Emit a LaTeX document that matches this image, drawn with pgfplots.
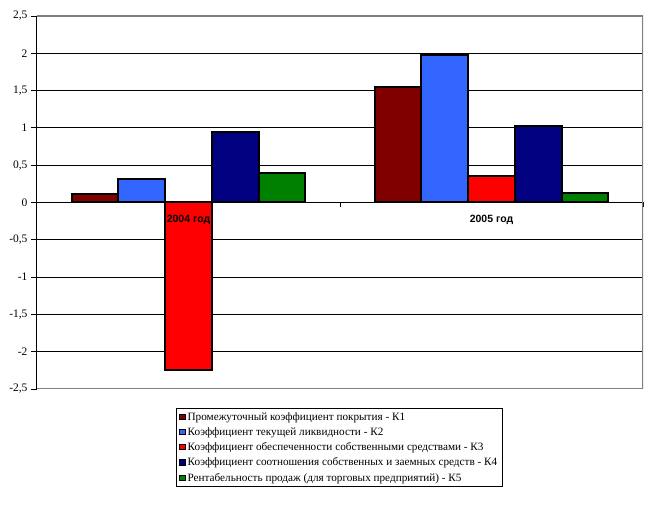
\documentclass[border=0pt]{standalone}
\usepackage{pgfplots}
\pgfplotsset{compat=1.18}
\usepackage{fontspec}
\setmainfont{Liberation Serif}
\newfontfamily\arial{Liberation Sans}
\definecolor{kone}{RGB}{128,0,0}
\definecolor{ktwo}{RGB}{51,102,255}
\definecolor{kthree}{RGB}{255,0,0}
\definecolor{kfour}{RGB}{0,0,128}
\definecolor{kfive}{RGB}{0,128,0}
\pgfplotsset{sq/.style={draw=black, line width=2pt,
  legend image code/.code={\draw[##1,draw=black,line width=0.7pt] (0pt,-2.5pt) rectangle (5.5pt,3pt);}}}
\begin{document}
\begin{tikzpicture}
\begin{axis}[
  scale only axis, width=606pt, height=373pt,
  xmin=-0.5, xmax=1.5, ymin=-2.5, ymax=2.5,
  ybar=0pt, bar width=46.7pt,
  axis x line=middle, axis y line=left, axis line style={-, line width=1pt},
  xtick={0,1}, xticklabels={},
  major x tick style={draw=none},
  minor xtick={0.5,1.5}, minor x tick style={black, line width=0.8pt},
  minor tick length=5pt,
  ytick={-2.5,-2,...,2.5},
  tick align=outside, major tick length=6pt,
  y tick style={black, line width=0.9pt},
  ymajorgrids, major grid style={black, line width=1pt},
  yticklabel style={font=\fontsize{11.5}{13}\selectfont},
  /pgf/number format/.cd, use comma, assume math mode=true,
  /pgfplots/.cd,
  legend style={at={(rel axis cs:0.2294,-0.051)}, anchor=north west,
    draw=black, line width=0.8pt, font=\fontsize{11.2}{13}\selectfont,
    row sep=1.8pt, inner xsep=3pt},
  legend cell align=left,
]
\addplot[sq, fill=kone] coordinates {(0,0.12) (1,1.55)};
\addplot[sq, fill=ktwo] coordinates {(0,0.31) (1,1.98)};
\addplot[sq, fill=kthree] coordinates {(0,-2.25) (1,0.36)};
\addplot[sq, fill=kfour] coordinates {(0,0.95) (1,1.03)};
\addplot[sq, fill=kfive] coordinates {(0,0.40) (1,0.13)};
\legend{Промежуточный коэффициент покрытия - К1,
  Коэффициент текущей ликвидности - К2,
  Коэффициент обеспеченности собственными средствами - К3,
  Коэффициент соотношения собственных и заемных средств - К4,
  Рентабельность продаж (для торговых предприятий) - К5}
\draw[gray, line width=1.8pt] (rel axis cs:0,1) -- (rel axis cs:1,1) -- (rel axis cs:1,0) -- (rel axis cs:0,0);
\draw[black, line width=1pt] (rel axis cs:0,0) -- (rel axis cs:0,1);
\node[font=\arial\bfseries\fontsize{10.5}{12}\selectfont, anchor=north, yshift=-9pt] at (axis cs:0,0) {2004 год};
\node[font=\arial\bfseries\fontsize{10.5}{12}\selectfont, anchor=north, yshift=-9pt] at (axis cs:1,0) {2005 год};
\coordinate (bl) at (rel axis cs:0,0);
\coordinate (tr) at (rel axis cs:1,1);
\end{axis}
\pgfresetboundingbox
\path[use as bounding box] ([xshift=-37pt,yshift=-128pt]bl) rectangle ([xshift=5pt,yshift=16pt]tr);
\end{tikzpicture}
\end{document}
